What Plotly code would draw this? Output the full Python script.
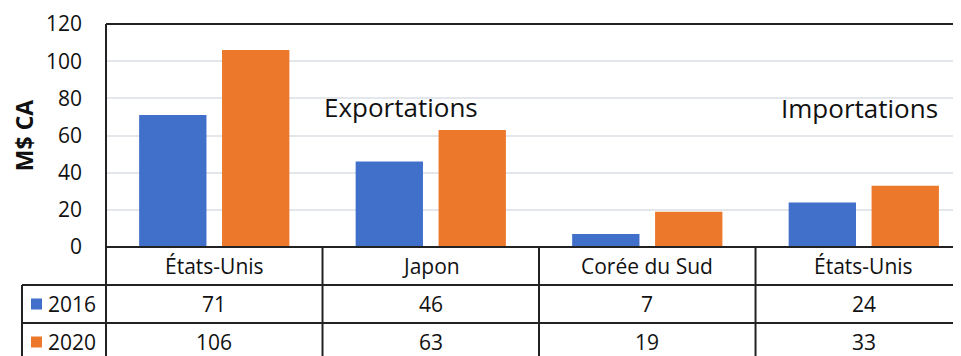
import plotly.graph_objects as go

categories = ["États-Unis", "Japon", "Corée du Sud", "États-Unis"]
series_names = ["2016", "2020"]
values_2016 = [71, 46, 7, 24]
values_2020 = [106, 63, 19, 33]
y_ticks = [0, 20, 40, 60, 80, 100, 120]
group_labels = ["Exportations", "Importations"]

colors = ["#4170CA", "#EC782B"]
FONT = "Open Sans"
OFF = 8  # page body margin
W, H = 961 - OFF, 356 - OFF
L, T = 106 - OFF, 24 - OFF
BOT = 247 - OFF
B = H - BOT
plot_h = BOT - T
plot_w = W - L

def py(ref_pix):
    """reference pixel y -> paper y"""
    return (BOT - (ref_pix - OFF)) / plot_h

def px(ref_pix):
    return ((ref_pix - OFF) - L) / plot_w

TXT = "#111111"
FS = 21
fig = go.Figure()
x_idx = list(range(len(categories)))
for name, vals, col in zip(series_names, [values_2016, values_2020], colors):
    fig.add_trace(go.Bar(x=x_idx, y=vals, name=name, marker=dict(color=col, line=dict(width=0)),
                         showlegend=False))

fig.update_layout(
    width=W, height=H,
    margin=dict(l=L, r=0, t=T, b=B, pad=0),
    paper_bgcolor="white", plot_bgcolor="white",
    barmode="group", bargap=0.234, bargroupgap=0.188,
    font=dict(family=FONT, size=FS, color=TXT),
)
fig.update_xaxes(range=[-0.5, 3.449], showticklabels=False, showgrid=False, zeroline=False,
                 showline=False, ticks="")
fig.update_yaxes(range=[0, 120], tickvals=y_ticks, showgrid=True, gridcolor="#E3E6EA", gridwidth=1.5,
                 zeroline=False, showline=False, ticks="", ticklabelstandoff=23,
                 tickfont=dict(size=FS, family=FONT, color=TXT),
                 title=dict(text="<b>M$ CA</b>", font=dict(size=23, family=FONT, color=TXT),
                            standoff=12))

line = dict(color="#222222", width=2)
fig.add_shape(type="line", xref="paper", yref="paper", x0=0, x1=1, y0=1, y1=1, line=line)
fig.add_shape(type="line", xref="paper", yref="paper", x0=0, x1=1, y0=0, y1=0, line=line)
fig.add_shape(type="line", xref="paper", yref="paper", x0=0, x1=0, y0=1, y1=py(370), line=line)

row_tops = [247, 285, 323, 361]
leg_x0 = px(22)
for r in (1, 2):
    fig.add_shape(type="line", xref="paper", yref="paper", x0=leg_x0, x1=1,
                  y0=py(row_tops[r]), y1=py(row_tops[r]), line=line)
fig.add_shape(type="line", xref="paper", yref="paper", x0=leg_x0, x1=leg_x0,
              y0=py(row_tops[1]), y1=py(370), line=line)
for i in range(len(categories) - 1):
    fig.add_shape(type="line", xref="x", yref="paper", x0=i + 0.5, x1=i + 0.5, y0=0, y1=py(370), line=line)

def row_center(r):
    return py((row_tops[r] + row_tops[r + 1]) / 2)

for i, c in enumerate(categories):
    fig.add_annotation(x=i, y=row_center(0), xref="x", yref="paper", text=c, showarrow=False,
                       xanchor="center", yanchor="middle", font=dict(size=FS, family=FONT, color=TXT))
for r, (name, vals, col) in enumerate(zip(series_names, [values_2016, values_2020], colors), start=1):
    for i, v in enumerate(vals):
        fig.add_annotation(x=i, y=row_center(r), xref="x", yref="paper", text=str(v), showarrow=False,
                           xanchor="center", yanchor="middle", font=dict(size=FS, family=FONT, color=TXT))
    yc = (row_tops[r] + row_tops[r + 1]) / 2
    fig.add_shape(type="rect", xref="paper", yref="paper",
                  x0=px(31), x1=px(42), y0=py(yc + 5.5), y1=py(yc - 5.5),
                  fillcolor=col, line=dict(width=0))
    fig.add_annotation(x=px(46), y=row_center(r), xref="paper", yref="paper", text=name,
                       showarrow=False, xanchor="left", yanchor="middle",
                       font=dict(size=FS, family=FONT, color=TXT))

fig.add_annotation(x=0.863, y=py(107), xref="x", yref="paper", text=group_labels[0], showarrow=False,
                   xanchor="center", yanchor="middle", font=dict(size=26, family=FONT, color=TXT))
fig.add_annotation(x=2.978, y=py(108), xref="x", yref="paper", text=group_labels[1], showarrow=False,
                   xanchor="center", yanchor="middle", font=dict(size=26, family=FONT, color=TXT))

fig.write_html("out.html")
